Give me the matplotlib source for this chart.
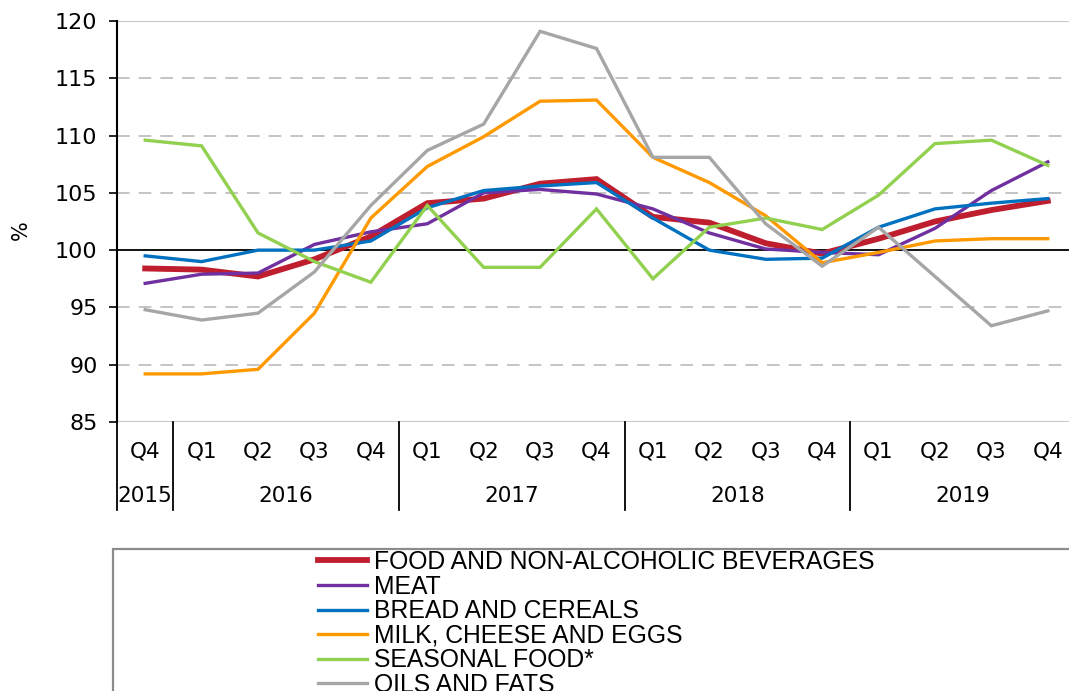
import matplotlib
matplotlib.use("Agg")
import matplotlib.pyplot as plt
from matplotlib.patches import Rectangle

quarters = ["Q4", "Q1", "Q2", "Q3", "Q4", "Q1", "Q2", "Q3", "Q4",
            "Q1", "Q2", "Q3", "Q4", "Q1", "Q2", "Q3", "Q4"]
years = ["2015", "2016", "2017", "2018", "2019"]
year_counts = [1, 4, 4, 4, 4]

food = [98.4, 98.3, 97.7, 99.2, 101.2, 104.1, 104.5, 105.8, 106.2,
        102.9, 102.4, 100.6, 99.7, 101.0, 102.5, 103.5, 104.3]
meat = [97.1, 97.9, 98.0, 100.5, 101.6, 102.3, 105.0, 105.3, 104.9,
        103.6, 101.5, 100.1, 99.8, 99.6, 101.9, 105.2, 107.7]
bread = [99.5, 99.0, 100.0, 100.0, 100.8, 103.7, 105.2, 105.6, 105.9,
         102.8, 100.0, 99.2, 99.3, 102.0, 103.6, 104.1, 104.5]
milk = [89.2, 89.2, 89.6, 94.5, 102.8, 107.3, 109.9, 113.0, 113.1,
        108.1, 105.9, 103.0, 98.9, 99.8, 100.8, 101.0, 101.0]
seasonal = [109.6, 109.1, 101.5, 99.0, 97.2, 103.9, 98.5, 98.5, 103.6,
            97.5, 102.0, 102.8, 101.8, 104.8, 109.3, 109.6, 107.4]
oils = [94.8, 93.9, 94.5, 98.1, 103.9, 108.7, 111.0, 119.1, 117.6,
        108.1, 108.1, 102.3, 98.6, 102.0, 97.7, 93.4, 94.7]

series_names = ["FOOD AND NON-ALCOHOLIC BEVERAGES", "MEAT", "BREAD AND CEREALS",
                "MILK, CHEESE AND EGGS", "SEASONAL FOOD*", "OILS AND FATS"]
series_values = [food, meat, bread, milk, seasonal, oils]
colors = ["#BE1E2D", "#7030A0", "#0070C0", "#FF9900", "#92D050", "#A6A6A6"]
widths = [4.2, 2.4, 2.4, 2.4, 2.4, 2.4]

W, H = 1069, 691
fig = plt.figure(figsize=(W / 100, H / 100), dpi=100)
fig.patch.set_facecolor("white")

left_px, right_px, top_px, bot_px = 117, 1076, 21, 422
ax = fig.add_axes([left_px / W, 1 - bot_px / H, (right_px - left_px) / W, (bot_px - top_px) / H])

x = list(range(len(quarters)))
lines = []
for name, vals, c, lw in zip(series_names, series_values, colors, widths):
    ln, = ax.plot(x, vals, color=c, lw=lw, label=name, solid_joinstyle="miter", zorder=3)
    lines.append(ln)

ax.set_xlim(-0.5, len(quarters) - 0.5)
ax.set_ylim(85, 120)
ax.set_yticks(range(85, 121, 5))

tick_font = dict(family="DejaVu Sans", size=16)
ax.set_yticklabels([str(v) for v in range(85, 121, 5)], **tick_font)
ax.tick_params(axis="y", direction="out", length=6, width=1.2, color="black", pad=8)
ax.set_xticks([])

for s in ["top", "right", "bottom"]:
    ax.spines[s].set_visible(False)
ax.spines["left"].set_linewidth(1.5)
ax.spines["left"].set_color("black")

for v in [90, 95, 105, 110, 115]:
    ax.axhline(v, color="#BFBFBF", lw=1.3, ls=(0, (7, 5)), zorder=1)
for v in [85, 120]:
    ax.axhline(v, color="#C8C8C8", lw=1.5, zorder=1)
ax.axhline(100, color="black", lw=1.3, zorder=2)

ax.set_ylabel("%", fontsize=15, family="DejaVu Sans")
ax.yaxis.set_label_coords(-0.09, 0.479)

# category labels
trans = ax.get_xaxis_transform()
ax_h = bot_px - top_px
q_y = -(452 - bot_px) / ax_h
y_y = -(496 - bot_px) / ax_h
sep_bottom = -(510 - bot_px) / ax_h
for xi, q in zip(x, quarters):
    ax.text(xi, q_y, q, transform=trans, ha="center", va="center",
            family="DejaVu Sans", size=15.5, clip_on=False)
start = 0
for yr, n in zip(years, year_counts):
    center = start + (n - 1) / 2
    ax.text(center, y_y, yr, transform=trans, ha="center", va="center",
            family="DejaVu Sans", size=15.5, clip_on=False)
    ax.plot([start - 0.5, start - 0.5], [0, sep_bottom], transform=trans,
            color="black", lw=1.3, clip_on=False)
    start += n

# legend box
fig.patches.append(Rectangle((113 / W, -0.1), 1.0, 1 - 549 / H + 0.1,
                             transform=fig.transFigure, facecolor="white",
                             edgecolor="#8C8C8C", lw=1.6, zorder=0))

leg = fig.legend(handles=lines, labels=series_names, loc="upper left",
                 bbox_to_anchor=(318 / W, 1 - 550 / H), frameon=False,
                 prop=dict(family="Liberation Sans", size=17.8),
                 handlelength=2.0, handletextpad=0.25, labelspacing=0.025,
                 borderpad=0, borderaxespad=0)

fig.savefig("out.png", dpi=100)
